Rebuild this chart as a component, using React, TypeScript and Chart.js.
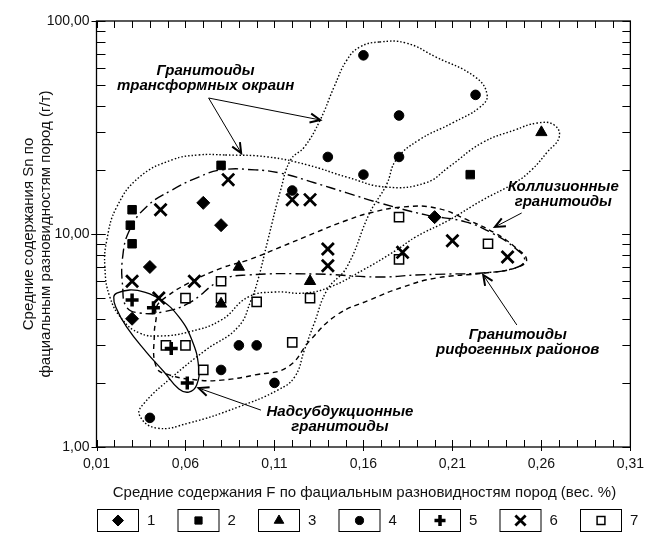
import React, { useEffect, useRef } from 'react';
import { Chart, registerables } from 'chart.js';
import { drawPoint } from 'chart.js/helpers';

Chart.register(...registerables);

// ---------- data ----------
const xTickValues = [0.01, 0.06, 0.11, 0.16, 0.21, 0.26, 0.31];
const yTickValues = [1, 10, 100];
const legendLabels = ['1', '2', '3', '4', '5', '6', '7'];

const group1 = [[0.07, 14], [0.08, 11], [0.04, 7], [0.03, 4], [0.2, 12]];
const group2 = [[0.08, 21], [0.03, 13], [0.029, 11], [0.03, 9], [0.22, 19]];
const group3 = [[0.26, 30], [0.09, 7], [0.13, 6], [0.08, 4.7]];
const group4 = [[0.16, 69], [0.223, 45], [0.18, 36], [0.18, 23], [0.16, 19], [0.14, 23], [0.12, 16], [0.09, 3], [0.1, 3], [0.08, 2.3], [0.11, 2], [0.04, 1.37]];
const group5 = [[0.03, 4.9], [0.042, 4.5], [0.052, 2.9], [0.061, 2]];
const group6 = [[0.084, 18], [0.046, 13], [0.12, 14.5], [0.13, 14.5], [0.14, 8.5], [0.14, 7.1], [0.03, 6], [0.065, 6], [0.045, 5], [0.21, 9.3], [0.182, 8.2], [0.241, 7.8]];
const group7 = [[0.18, 12], [0.23, 9], [0.18, 7.6], [0.08, 6], [0.06, 5], [0.08, 5], [0.1, 4.8], [0.13, 5], [0.049, 3], [0.06, 3], [0.12, 3.1], [0.07, 2.3]];

// outlines of the granitoid fields (data coordinates)
const envTransformWide = [[0.0824, 23.5], [0.1063, 23.0], [0.1285, 21.1], [0.1507, 18.5], [0.1729, 16.6], [0.1951, 17.4], [0.2079, 20.6], [0.2267, 26.8], [0.2451, 30.8], [0.2578, 33.2], [0.2672, 32.5], [0.27, 28.5], [0.2634, 24.3], [0.2545, 20.0], [0.2451, 17.4], [0.2267, 14.4], [0.2079, 11.6], [0.1895, 9.7], [0.1785, 8.4], [0.1601, 6.8], [0.1413, 5.64], [0.1268, 5.28], [0.1102, 5.34], [0.0952, 5.06], [0.0802, 3.95], [0.0619, 3.47], [0.0452, 3.32], [0.0341, 3.43], [0.0247, 3.95], [0.0175, 5.06], [0.0147, 7.0], [0.0158, 9.37], [0.0214, 13.4], [0.0341, 18.5], [0.0525, 22.3], [0.0674, 23.5]];
const envTransformTall = [[0.169, 79.7], [0.184, 78.8], [0.2006, 67.8], [0.2228, 54.6], [0.2295, 45.0], [0.2256, 39.5], [0.21, 33.2], [0.1911, 27.6], [0.1784, 22.3], [0.1729, 17.0], [0.1635, 12.55], [0.1507, 7.0], [0.1396, 5.46], [0.1324, 3.82], [0.1268, 2.85], [0.1213, 2.13], [0.1118, 1.85], [0.0896, 1.54], [0.0619, 1.296], [0.0436, 1.228], [0.0341, 1.413], [0.0369, 1.61], [0.0525, 2.13], [0.0713, 2.85], [0.0896, 3.66], [0.0969, 4.9], [0.1007, 6.08], [0.1063, 9.37], [0.1135, 16.1], [0.1191, 22.3], [0.1268, 25.6], [0.1357, 34.3], [0.1435, 49.0], [0.1507, 65.6], [0.158, 75.5]];
const envCollision = [[0.0286, 10.44], [0.038, 13.4], [0.0525, 16.1], [0.0674, 18.5], [0.0802, 20.0], [0.0991, 20.0], [0.1135, 19.3], [0.1324, 17.4], [0.1507, 15.6], [0.169, 14.0], [0.1951, 12.3], [0.2173, 11.4], [0.2323, 10.1], [0.2451, 8.6], [0.2506, 7.55], [0.2451, 6.92], [0.2267, 6.56], [0.2079, 6.49], [0.1895, 6.42], [0.169, 6.28], [0.1324, 6.49], [0.0952, 6.42], [0.0802, 6.08], [0.0619, 4.74], [0.0469, 4.3], [0.0341, 4.26], [0.0269, 4.54], [0.0247, 5.64], [0.0247, 7.8]];
const envRift = [[0.0436, 4.54], [0.0491, 5.06], [0.0619, 5.89], [0.0802, 6.92], [0.0952, 7.55], [0.1135, 8.69], [0.1324, 10.1], [0.1507, 11.6], [0.1635, 12.55], [0.1823, 13.4], [0.2006, 13.25], [0.2189, 11.6], [0.2339, 10.1], [0.2451, 8.69], [0.2517, 7.55], [0.2451, 6.92], [0.2284, 6.56], [0.2006, 6.21], [0.1823, 5.64], [0.1635, 4.9], [0.1451, 4.17], [0.1302, 3.18], [0.1174, 2.375], [0.0991, 2.18], [0.0802, 2.06], [0.0674, 2.06], [0.0508, 2.18], [0.0436, 2.375], [0.0425, 3.43], [0.0436, 4.08]];
const envSubduction = [[0.0214, 5.28], [0.0286, 5.46], [0.0369, 5.34], [0.0464, 4.9], [0.0563, 4.08], [0.0636, 3.18], [0.0674, 2.375], [0.0663, 1.955], [0.0619, 1.812], [0.0563, 1.873], [0.048, 2.25], [0.038, 2.79], [0.0269, 3.66], [0.0208, 4.54], [0.0197, 5.06]];

// ---------- styles / annotations ----------
const FONT = '"Liberation Sans", Arial, sans-serif';

const seriesStyles = [
  { data: group1, pointStyle: 'rectRot', radius: 6.5, bg: '#000', bw: 1 },
  { data: group2, pointStyle: 'rect', radius: 6, bg: '#000', bw: 1 },
  { data: group3, pointStyle: 'triangle', radius: 6.5, bg: '#000', bw: 1 },
  { data: group4, pointStyle: 'circle', radius: 4.8, bg: '#000', bw: 1 },
  { data: group5, pointStyle: 'cross', radius: 6.5, bg: '#000', bw: 3.5 },
  { data: group6, pointStyle: 'crossRot', radius: 8.5, bg: '#000', bw: 2.8 },
  { data: group7, pointStyle: 'rect', radius: 6.5, bg: '#fff', bw: 1.5 },
];

const curveStyles = [
  { data: envTransformWide, dash: [1.5, 2], width: 1.4 },
  { data: envTransformTall, dash: [1.5, 2], width: 1.4 },
  { data: envCollision, dash: [10, 4, 2, 4], width: 1.4 },
  { data: envRift, dash: [5, 4], width: 1.4 },
  { data: envSubduction, dash: [], width: 1.3 },
];

const fieldLabels = [
  { lines: ['Гранитоиды', 'трансформных окраин'], x: 0.0713, y: 58.3 },
  { lines: ['Коллизионные', 'гранитоиды'], x: 0.2723, y: 16.6 },
  { lines: ['Гранитоиды', 'рифогенных районов'], x: 0.2467, y: 3.36 },
  { lines: ['Надсубдукционные', 'гранитоиды'], x: 0.1468, y: 1.46 },
];

const arrows = [
  { from: [0.073, 43.5], to: [0.0913, 24.0] },
  { from: [0.073, 43.5], to: [0.1357, 34.3] },
  { from: [0.2489, 12.55], to: [0.2339, 10.79] },
  { from: [0.2462, 3.74], to: [0.2273, 6.42] },
  { from: [0.1024, 1.49], to: [0.0674, 1.89] },
];

const fmt = (v: number) => Number(v).toFixed(2).replace('.', ',');

function drawArrow(ctx: CanvasRenderingContext2D, x1: number, y1: number, x2: number, y2: number) {
  ctx.setLineDash([]);
  ctx.lineWidth = 1;
  ctx.beginPath();
  ctx.moveTo(x1, y1);
  ctx.lineTo(x2, y2);
  ctx.stroke();
  const ang = Math.atan2(y2 - y1, x2 - x1);
  const L = 11;
  const A = 0.42;
  ctx.lineWidth = 2;
  ctx.beginPath();
  ctx.moveTo(x2 - L * Math.cos(ang - A), y2 - L * Math.sin(ang - A));
  ctx.lineTo(x2, y2);
  ctx.lineTo(x2 - L * Math.cos(ang + A), y2 - L * Math.sin(ang + A));
  ctx.stroke();
}

const decorPlugin = {
  id: 'decor',
  afterDraw(chart: any) {
    const { ctx, chartArea: a } = chart;
    const xs = chart.scales.x;
    const ys = chart.scales.y;
    ctx.save();
    ctx.strokeStyle = '#000';
    ctx.fillStyle = '#000';
    ctx.setLineDash([]);

    // frame
    ctx.lineWidth = 1.3;
    ctx.strokeRect(a.left, a.top, a.right - a.left, a.bottom - a.top);

    // x ticks (inward)
    ctx.lineWidth = 1;
    ctx.beginPath();
    for (let i = 0; i <= 30; i++) {
      const v = 0.01 + i * 0.01;
      const px = Math.round(xs.getPixelForValue(v)) + 0.5;
      const major = i % 5 === 0;
      ctx.moveTo(px, a.bottom + (major ? 4 : 0));
      ctx.lineTo(px, a.bottom - 7);
      ctx.moveTo(px, a.top);
      ctx.lineTo(px, a.top + 7);
    }
    // y ticks (inward)
    for (const d of [1, 10]) {
      for (let k = 1; k <= 10; k++) {
        const v = k * d;
        const py = Math.round(ys.getPixelForValue(v)) + 0.5;
        const major = k === 1 || k === 10;
        ctx.moveTo(a.left - (major ? 5 : 0), py);
        ctx.lineTo(a.left + 9, py);
        ctx.moveTo(a.right - 8, py);
        ctx.lineTo(a.right, py);
      }
    }
    ctx.stroke();

    // outline labels and arrows
    for (const ar of arrows) {
      drawArrow(
        ctx,
        xs.getPixelForValue(ar.from[0]), ys.getPixelForValue(ar.from[1]),
        xs.getPixelForValue(ar.to[0]), ys.getPixelForValue(ar.to[1])
      );
    }
    ctx.font = `italic bold 15px ${FONT}`;
    ctx.textAlign = 'center';
    ctx.textBaseline = 'middle';
    for (const lb of fieldLabels) {
      const cx = xs.getPixelForValue(lb.x);
      const cy = ys.getPixelForValue(lb.y);
      lb.lines.forEach((t, i) => ctx.fillText(t, cx, cy + i * 15));
    }

    // axis titles
    ctx.font = `15px ${FONT}`;
    ctx.fillStyle = '#111';
    ctx.fillText('Средние содержания F по фациальным разновидностям пород (вес. %)', (a.left + a.right) / 2 + 1, 493);
    ctx.save();
    ctx.translate(0, (a.top + a.bottom) / 2);
    ctx.rotate(-Math.PI / 2);
    ctx.fillText('Средние содержания Sn по', 0, 29);
    ctx.fillText('фациальным разновидностям пород (г/т)', 0, 46);
    ctx.restore();

    // legend
    const boxW = 41;
    const boxH = 22;
    const top = 509;
    const step = 80.5;
    ctx.font = `15px ${FONT}`;
    ctx.textAlign = 'left';
    seriesStyles.forEach((s, i) => {
      const bx = 97 + i * step;
      ctx.lineWidth = 1;
      ctx.strokeStyle = '#000';
      ctx.setLineDash([]);
      ctx.strokeRect(bx + 0.5, top + 0.5, boxW, boxH);
      ctx.fillStyle = s.bg;
      ctx.lineWidth = s.bw;
      drawPoint(ctx, { pointStyle: s.pointStyle, radius: s.radius * 0.85, borderWidth: s.bw, rotation: 0 } as any, bx + boxW / 2 + 0.5, top + boxH / 2 + 0.5);
      ctx.fillStyle = '#111';
      ctx.fillText(legendLabels[i], bx + boxW + 9, top + boxH / 2 + 1);
    });
    ctx.restore();
  },
};

function closedLoop(pts: number[][]) {
  const n = pts.length;
  const wrapped = [pts[n - 1], ...pts, pts[0], pts[1]];
  return wrapped.map(([x, y]) => ({ x, y }));
}

export default function App() {
  const ref = useRef<HTMLCanvasElement | null>(null);

  useEffect(() => {
    if (!ref.current) return;
    const pointSets = seriesStyles.map((s, i) => ({
      label: legendLabels[i],
      data: s.data.map(([x, y]) => ({ x, y })),
      pointStyle: s.pointStyle,
      pointRadius: s.radius,
      pointHoverRadius: s.radius,
      pointBackgroundColor: s.bg,
      pointBorderColor: '#000',
      pointBorderWidth: s.bw,
      showLine: false,
      order: 0,
    }));
    const curveSets = curveStyles.map((c) => {
      const n = c.data.length;
      return {
        label: '',
        data: closedLoop(c.data),
        showLine: true,
        tension: 0.45,
        borderColor: '#000',
        borderWidth: c.width,
        borderDash: c.dash,
        pointRadius: 0,
        pointHoverRadius: 0,
        fill: false,
        order: 1,
        segment: {
          borderColor: (ctx: any) =>
            ctx.p0DataIndex === 0 || ctx.p0DataIndex === n + 1 ? 'rgba(0,0,0,0)' : undefined,
        },
      };
    });

    const chart = new Chart(ref.current, {
      type: 'scatter',
      data: { datasets: [...pointSets, ...curveSets] as any },
      options: {
        animation: false,
        responsive: false,
        devicePixelRatio: 1,
        events: [],
        layout: { padding: { top: 21, right: 16, left: 0, bottom: 0 } },
        plugins: { legend: { display: false }, tooltip: { enabled: false } },
        scales: {
          x: {
            type: 'linear',
            min: 0.01,
            max: 0.31,
            grid: { display: false, drawTicks: false },
            border: { display: false },
            afterBuildTicks: (s: any) => { s.ticks = xTickValues.map((v) => ({ value: v })); },
            afterFit: (s: any) => { s.height = 89; },
            ticks: {
              autoSkip: false,
              maxRotation: 0,
              padding: 9,
              color: '#111',
              font: { family: FONT, size: 14 },
              callback: (v: any) => fmt(v),
            },
          },
          y: {
            type: 'logarithmic',
            min: 1,
            max: 100,
            grid: { display: false, drawTicks: false },
            border: { display: false },
            afterBuildTicks: (s: any) => { s.ticks = yTickValues.map((v) => ({ value: v })); },
            afterFit: (s: any) => { s.width = 96.5; },
            ticks: {
              autoSkip: false,
              padding: 7,
              color: '#111',
              font: { family: FONT, size: 14 },
              callback: (v: any) => fmt(v),
            },
          },
        },
      },
      plugins: [decorPlugin],
    } as any);
    return () => chart.destroy();
  }, []);

  return (
    <div style={{ position: 'fixed', left: 0, top: 0, width: 653, height: 536, background: '#fff' }}>
      <canvas ref={ref} width={653} height={536} style={{ display: 'block', width: 653, height: 536 }} />
    </div>
  );
}
